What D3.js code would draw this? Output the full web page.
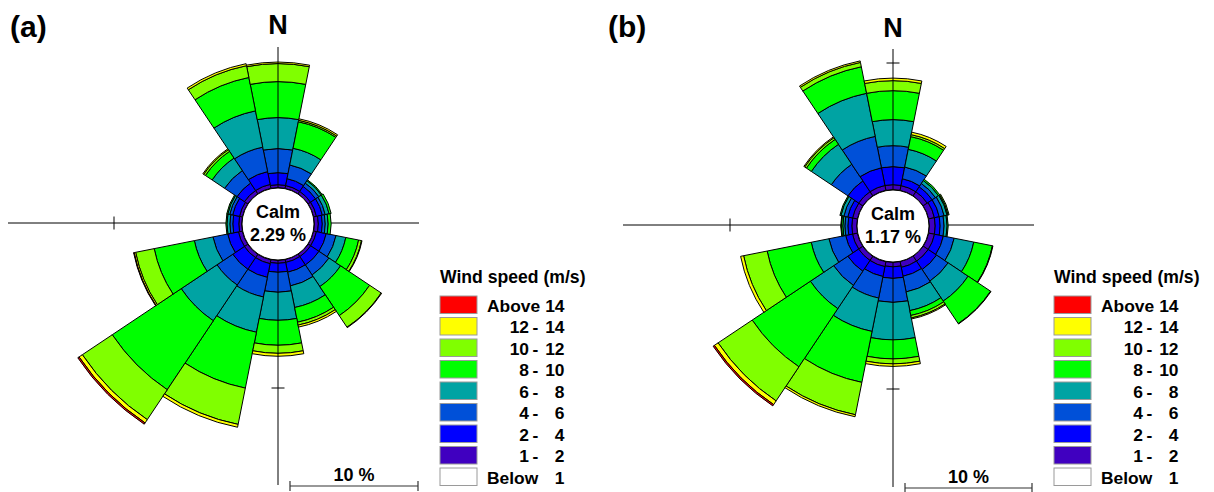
<!DOCTYPE html>
<html>
<head>
<meta charset="utf-8">
<script src="https://cdn.jsdelivr.net/npm/d3@7"></script>
<style>
  html, body { margin: 0; padding: 0; background: #fff; }
  svg { display: block; font-family: "Liberation Sans", Arial, sans-serif; font-weight: bold; }
</style>
</head>
<body>
<svg id="chart"></svg>
<script>
// directions, clockwise from north
const directions = ['N','NNE','NE','ENE','E','ESE','SE','SSE','S','SSW','SW','WSW','W','WNW','NW','NNW']
const speedBins = ['Below 1','1 - 2','2 - 4','4 - 6','6 - 8','8 - 10','10 - 12','12 - 14','Above 14']
const binColors = ['#ffffff','#4000c0','#0000ff','#0050d8','#00a3a3','#00ff00','#80ff00','#ffff00','#ff0000']

// panel (a), frequency in % per direction
const aBelow1 = [0.03,0.02,0.02,0.02,0.03,0.02,0.03,0.02,0.03,0.04,0.04,0.03,0.02,0.02,0.03,0.03]
const a1to2   = [0.23,0.23,0.23,0.23,0.31,0.23,0.23,0.23,0.23,0.31,0.31,0.31,0.23,0.23,0.31,0.31]
const a2to4   = [0.94,0.55,0.47,0.47,0.31,0.78,0.78,0.78,0.70,1.09,1.09,0.86,0.47,0.55,0.70,1.02]
const a4to6   = [1.88,1.09,0.31,0.23,0.23,0.78,0.94,1.09,1.56,1.56,1.48,1.17,0.23,0.23,1.17,1.95]
const a6to8   = [2.42,1.33,0.23,0.31,0.23,0.78,1.09,1.72,2.19,2.81,3.36,1.48,0.23,0.16,1.17,2.89]
const a8to10  = [2.81,2.11,0.08,0.16,0.23,1.02,2.73,1.17,1.95,4.45,6.48,3.20,0.08,0.08,0.63,2.66]
const a10to12 = [1.41,0.12,0,0,0,0.23,1.09,0.23,0.63,2.89,2.81,1.48,0,0,0.16,0.94]
const a12to14 = [0.12,0.12,0,0,0,0.04,0.04,0.16,0.23,0.23,0.31,0.12,0,0,0.08,0.16]
const aAbove14 = [0,0,0,0,0,0,0,0,0,0,0.12,0.04,0,0,0,0]

// panel (b)
const bBelow1 = [0.03,0.02,0.02,0.02,0.02,0.03,0.03,0.02,0.03,0.04,0.04,0.03,0.02,0.02,0.03,0.03]
const b1to2   = [0.39,0.39,0.39,0.47,0.47,0.47,0.47,0.47,0.35,0.39,0.39,0.39,0.39,0.39,0.39,0.39]
const b2to4   = [1.42,0.55,0.47,0.39,0.39,0.71,0.79,0.71,0.91,0.79,1.02,0.55,0.31,0.39,1.02,1.42]
const b4to6   = [1.65,0.94,0.31,0.39,0.31,0.87,1.10,1.26,1.89,1.73,1.34,1.34,0.24,0.31,1.57,2.52]
const b6to8   = [2.05,1.42,0.28,0.24,0.24,1.57,1.89,1.50,2.95,2.68,2.20,1.42,0.16,0.24,1.89,3.46]
const b8to10  = [2.28,1.02,0.12,0.08,0.08,1.50,2.13,0.39,1.50,4.09,5.51,3.54,0.12,0.08,0.47,2.13]
const b10to12 = [0.79,0.16,0,0.08,0,0.04,0.04,0.20,0.39,2.60,3.23,1.89,0.04,0,0.16,0.35]
const b12to14 = [0.20,0.20,0,0,0,0,0,0.08,0.20,0.16,0.35,0.24,0,0,0.08,0.12]
const bAbove14 = [0,0,0,0,0,0,0,0,0,0,0.12,0,0,0,0,0]

const calmA = 2.29
const calmB = 1.17

const panels = [
    { tag: '(a)', calm: calmA, series: [aBelow1,a1to2,a2to4,a4to6,a6to8,a8to10,a10to12,a12to14,aAbove14],
      cx: 278, cy: 224, k: 12.8, ticks: ['left','bottom'], tagX: 10, nY: 34, legendX: 440 },
    { tag: '(b)', calm: calmB, series: [bBelow1,b1to2,b2to4,b4to6,b6to8,b8to10,b10to12,b12to14,bAbove14],
      cx: 893, cy: 226, k: 12.7, ticks: ['left','top','bottom'], tagX: 608, nY: 37, legendX: 1054 }
]

const width = 1214, height = 492
const calmR = 36

const svg = d3.select('#chart')
    .attr('width', width)
    .attr('height', height)

svg.append('rect').attr('width', width).attr('height', height).attr('fill', '#fff')

const angle = d3.scaleBand()
    .domain(directions)
    .range([-Math.PI / 16, 2 * Math.PI - Math.PI / 16])

const colour = d3.scaleOrdinal(speedBins, binColors)

panels.forEach(p => {
    const g = svg.append('g').attr('transform', `translate(${p.cx},${p.cy})`)
    const r = d3.scaleLinear().domain([0, 10]).range([calmR, calmR + 10 * p.k])
    const tenPct = r(10)

    // rows per direction, stacked by speed class
    const rows = directions.map((d, i) => {
        const row = { dir: d }
        speedBins.forEach((b, j) => { row[b] = p.series[j][i] })
        return row
    })
    const stacked = d3.stack().keys(speedBins)(rows)

    // horizontal axis sits under the petals
    g.append('line')
        .attr('x1', -270).attr('x2', 141).attr('y1', -1).attr('y2', -1)
        .attr('stroke', '#000').attr('stroke-width', 1)

    const arc = d3.arc()
        .innerRadius(d => r(d[0]))
        .outerRadius(d => r(d[1]))
        .startAngle(d => angle(d.data.dir))
        .endAngle(d => angle(d.data.dir) + angle.bandwidth())

    g.append('g')
        .selectAll('g')
        .data(stacked)
        .join('g')
        .attr('fill', d => colour(d.key))
        .selectAll('path')
        .data(d => d.filter(s => s[1] - s[0] > 0))
        .join('path')
        .attr('d', arc)
        .attr('stroke', '#000')
        .attr('stroke-width', 1)
        .attr('stroke-linejoin', 'round')

    // vertical axis drawn over the petals
    g.append('line')
        .attr('x1', 0).attr('x2', 0).attr('y1', -177).attr('y2', 261)
        .attr('stroke', '#000').attr('stroke-width', 1)

    // ticks at 10 %
    const tickPos = { left: [-tenPct, -1, 'v'], top: [0, -tenPct, 'h'], bottom: [0, tenPct, 'h'] }
    p.ticks.forEach(t => {
        const [x, y, o] = tickPos[t]
        g.append('line')
            .attr('x1', o === 'v' ? x : x - 6.5).attr('x2', o === 'v' ? x : x + 6.5)
            .attr('y1', o === 'v' ? y - 6.5 : y).attr('y2', o === 'v' ? y + 6.5 : y)
            .attr('stroke', '#000').attr('stroke-width', 1)
    })

    // calm circle
    g.append('circle')
        .attr('r', calmR)
        .attr('fill', '#fff')
        .attr('stroke', '#000')
        .attr('stroke-width', 1)

    g.append('text')
        .attr('text-anchor', 'middle').attr('y', -6)
        .attr('font-size', 18)
        .text('Calm')
    g.append('text')
        .attr('text-anchor', 'middle').attr('y', 17)
        .attr('font-size', 18)
        .text(`${p.calm.toFixed(2)} %`)

    // north label
    svg.append('text')
        .attr('x', p.cx).attr('y', p.nY)
        .attr('text-anchor', 'middle')
        .attr('font-size', 27)
        .text('N')

    // panel tag
    svg.append('text')
        .attr('x', p.tagX).attr('y', 37)
        .attr('font-size', 30)
        .text(p.tag)

    // scale bar
    const sb = svg.append('g').attr('transform', `translate(${p.cx + 12},${p.cy + 262})`)
    const barLen = r(10) - r(0)
    sb.append('line').attr('x1', 0).attr('x2', barLen).attr('y1', 0).attr('y2', 0)
        .attr('stroke', '#333').attr('stroke-width', 1.2)
    ;[0, barLen].forEach(x => {
        sb.append('line').attr('x1', x).attr('x2', x).attr('y1', -5).attr('y2', 5)
            .attr('stroke', '#333').attr('stroke-width', 1.2)
    })
    sb.append('text')
        .attr('x', barLen / 2).attr('y', -5)
        .attr('text-anchor', 'middle')
        .attr('font-size', 18)
        .text('10 %')

    // legend
    const lg = svg.append('g').attr('transform', `translate(${p.legendX},296)`)
    lg.append('text')
        .attr('x', 0).attr('y', -13)
        .attr('font-size', 17.6)
        .text('Wind speed (m/s)')

    const items = speedBins.slice().reverse()
    const row = lg.selectAll('g.item')
        .data(items)
        .join('g')
        .attr('class', 'item')
        .attr('transform', (d, i) => `translate(0,${i * 21.5})`)

    row.append('rect')
        .attr('width', 37).attr('height', 17.5)
        .attr('fill', d => colour(d))
        .attr('stroke', '#9a9a9a').attr('stroke-width', 1)

    row.each(function (d) {
        const parts = d.split(' ')
        const sel = d3.select(this)
        if (parts.length === 2) {
            sel.append('text').attr('x', 47).attr('y', 15.5).attr('font-size', 17.4).text(parts[0])
            sel.append('text').attr('x', 124.5).attr('y', 15.5).attr('font-size', 17.4)
                .attr('text-anchor', 'end').text(parts[1])
        } else {
            sel.append('text').attr('x', 89).attr('y', 15.5).attr('font-size', 17.4)
                .attr('text-anchor', 'end').text(parts[0])
            sel.append('text').attr('x', 95.5).attr('y', 15.5).attr('font-size', 17.4)
                .attr('text-anchor', 'middle').text('-')
            sel.append('text').attr('x', 124.5).attr('y', 15.5).attr('font-size', 17.4)
                .attr('text-anchor', 'end').text(parts[2])
        }
    })
})
</script>
</body>
</html>
